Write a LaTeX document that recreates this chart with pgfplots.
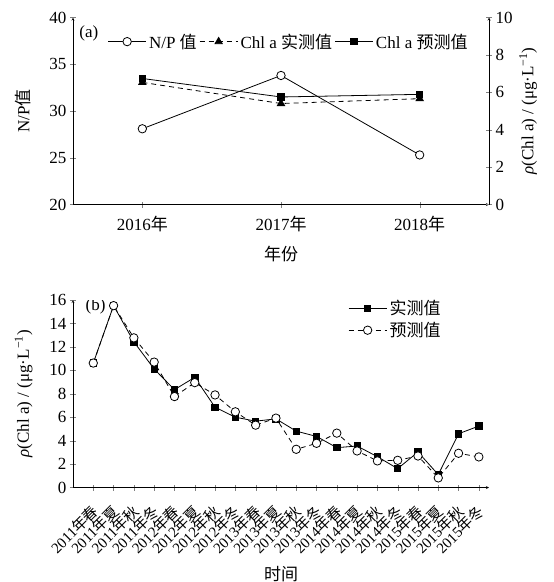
\documentclass[border=0pt]{standalone}
\usepackage{fontspec}
\setmainfont{Liberation Serif}
\newfontfamily\cjk{Noto Sans CJK SC}
\usepackage{pgfplots}
\pgfplotsset{compat=1.18}
\pgfplotsset{
  every axis/.append style={font=\fontsize{17bp}{20bp}\selectfont},
  tick label style={font=\fontsize{17bp}{20bp}\selectfont},
  /pgf/number format/assume math mode=true,
  tick align=inside,
  major tick length=6bp,
  axis line style={-},
  every axis plot/.append style={line width=0.8bp},
  legend image code/.code={\draw[mark repeat=2,mark phase=2,#1] plot coordinates {(0bp,0bp) (19bp,0bp) (38bp,0bp)};},
}
\begin{document}
\begin{tikzpicture}
\path[use as bounding box] (0bp,0bp) rectangle (554bp,-582bp);
% ---------- panel (a), left axis ----------
\begin{axis}[
  at={(73bp,-204.5bp)}, anchor=south west,
  scale only axis, width=416bp, height=187bp,
  xmin=-0.5, xmax=2.5, ymin=20, ymax=40,
  axis x line=bottom, axis y line=left,
  xtick={0,1,2},
  xticklabels={2016{\cjk 年},2017{\cjk 年},2018{\cjk 年}},
  xticklabel style={yshift=-5bp},
  ytick={20,25,30,35,40},
  xlabel={{\cjk 年份}},
  xlabel shift=8bp,
  ylabel={N/P{\cjk 值}},
  ylabel shift=12bp,
]
\addplot[black, solid, mark=*, mark size=4.2bp, mark options={fill=white}] coordinates {(0,28.1) (1,33.8) (2,25.3)};
\node[anchor=north west, inner sep=0pt] at (rel axis cs:0.015,0.955) {(a)};
\end{axis}
% ---------- panel (a), right axis ----------
\begin{axis}[
  at={(73bp,-204.5bp)}, anchor=south west,
  scale only axis, width=416bp, height=187bp,
  xmin=-0.5, xmax=2.5, ymin=0, ymax=10,
  axis x line=none, axis y line=right,
  ytick={0,2,4,6,8,10},
  ylabel={\textit{ρ}(Chl a) / (μg·L\textsuperscript{−1})},
  legend columns=3,
  legend style={at={(0.519,0.871)}, anchor=center, draw=none, fill=none,
    font=\fontsize{17bp}{20bp}\selectfont, inner xsep=0pt,
    nodes={inner xsep=2.5bp}},
]
\addlegendimage{black, solid, mark=*, mark size=4.2bp, mark options={fill=white}, line width=0.8bp}
\addlegendentry{N/P {\cjk 值}}
\addplot[black, dash pattern=on 5bp off 4bp, mark=triangle*, mark size=4.2bp, mark options={solid}] coordinates {(0,6.53) (1,5.40) (2,5.66)};
\addlegendentry{Chl a {\cjk 实测值}}
\addplot[black, solid, mark=square*, mark size=3.2bp] coordinates {(0,6.74) (1,5.75) (2,5.89)};
\addlegendentry{Chl a {\cjk 预测值}}
\end{axis}
% ---------- panel (b) ----------
\begin{axis}[
  at={(73bp,-487.5bp)}, anchor=south west,
  scale only axis, width=416bp, height=187.5bp,
  xmin=-1, xmax=19.5, ymin=0, ymax=16,
  axis x line=bottom, axis y line=left,
  xtick={0,...,19},
  xticklabels={
    2011{\cjk 年春},2011{\cjk 年夏},2011{\cjk 年秋},2011{\cjk 年冬},
    2012{\cjk 年春},2012{\cjk 年夏},2012{\cjk 年秋},2012{\cjk 年冬},
    2013{\cjk 年春},2013{\cjk 年夏},2013{\cjk 年秋},2013{\cjk 年冬},
    2014{\cjk 年春},2014{\cjk 年夏},2014{\cjk 年秋},2014{\cjk 年冬},
    2015{\cjk 年春},2015{\cjk 年夏},2015{\cjk 年秋},2015{\cjk 年冬}},
  xticklabel style={rotate=45, anchor=north east, inner sep=0bp,
    xshift=-11bp, yshift=-7bp,
    font=\fontsize{15bp}{17bp}\selectfont},
  ytick={0,2,...,16},
  xlabel={{\cjk 时间}},
  xlabel shift=7bp,
  ylabel={\textit{ρ}(Chl a) / (μg·L\textsuperscript{−1})},
  ylabel shift=10bp,
  legend style={at={(0.654,1.02)}, anchor=north west, draw=none, fill=none,
    font=\fontsize{17bp}{20bp}\selectfont, row sep=2bp,
    nodes={inner xsep=2.5bp}},
]
\addplot[black, solid, mark=square*, mark size=3.2bp] coordinates {
 (0,10.62) (1,15.52) (2,12.43) (3,10.11) (4,8.35) (5,9.40) (6,6.85) (7,6.00)
 (8,5.66) (9,5.86) (10,4.81) (11,4.36) (12,3.40) (13,3.54) (14,2.63) (15,1.61)
 (16,3.03) (17,1.10) (18,4.59) (19,5.24)};
\addlegendentry{{\cjk 实测值}}
\addplot[black, dash pattern=on 5bp off 4bp, mark=*, mark size=4.2bp, mark options={solid, fill=white}] coordinates {
 (0,10.62) (1,15.52) (2,12.77) (3,10.70) (4,7.76) (5,8.95) (6,7.90) (7,6.46)
 (8,5.32) (9,5.92) (10,3.26) (11,3.77) (12,4.64) (13,3.12) (14,2.27) (15,2.32)
 (16,2.69) (17,0.82) (18,2.92) (19,2.61)};
\addlegendentry{{\cjk 预测值}}
\node[anchor=north west, inner sep=0pt] at (rel axis cs:0.03,1.01) {(b)};
\end{axis}
\end{tikzpicture}
\end{document}
